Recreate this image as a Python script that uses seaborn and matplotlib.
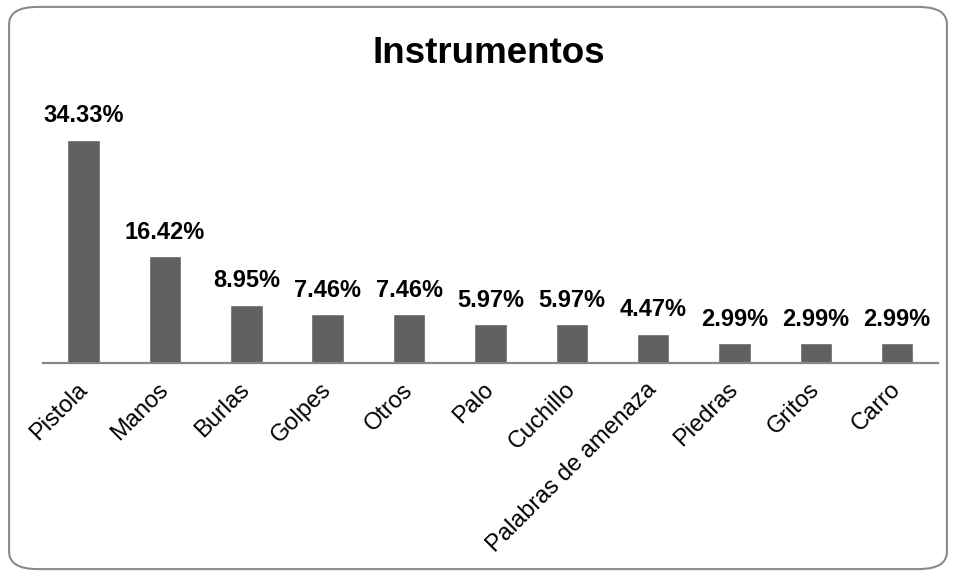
import matplotlib
matplotlib.use("Agg")
import matplotlib.pyplot as plt
from matplotlib.patches import FancyBboxPatch
import seaborn as sns
import pandas as pd

# data
categorias = ["Pistola", "Manos", "Burlas", "Golpes", "Otros", "Palo", "Cuchillo",
              "Palabras de amenaza", "Piedras", "Gritos", "Carro"]
porcentajes = [34.33, 16.42, 8.95, 7.46, 7.46, 5.97, 5.97, 4.47, 2.99, 2.99, 2.99]

df = pd.DataFrame({"Instrumento": categorias, "Porcentaje": porcentajes})

sns.set_theme(style="white")
plt.rcParams["font.family"] = ["Liberation Sans", "DejaVu Sans"]

fig = plt.figure(figsize=(9.56, 5.76), dpi=100)
ax = fig.add_axes([0.045, 0.370, 0.936, 0.451])

sns.barplot(data=df, x="Instrumento", y="Porcentaje", color="#606060",
            saturation=1, width=0.4, ax=ax)

ax.set_ylim(0, 40)
ax.set_xlim(-0.5, len(categorias) - 0.5)
ax.set_xlabel("")
ax.set_ylabel("")
ax.set_yticks([])
for s in ["top", "right", "left"]:
    ax.spines[s].set_visible(False)
ax.spines["bottom"].set_color("#868686")
ax.spines["bottom"].set_linewidth(1.6)

ax.tick_params(axis="x", length=0, pad=17)
plt.setp(ax.get_xticklabels(), rotation=45, ha="right", va="center",
         rotation_mode="anchor", fontsize=17, color="black")

ax.bar_label(ax.containers[0], labels=[f"{v:.2f}%" for v in porcentajes],
             padding=9, fontsize=17, fontweight="bold", color="black")

fig.text(0.511, 0.907, "Instrumentos", ha="center", va="center",
         fontsize=26.5, fontweight="bold", color="black")

# rounded frame around the whole chart
frame = FancyBboxPatch((0.0095, 0.012), 0.981, 0.976,
                       boxstyle="round,pad=0,rounding_size=0.03",
                       transform=fig.transFigure, fill=False,
                       edgecolor="#8a8a8a", linewidth=1.5)
fig.patches.append(frame)

fig.savefig("out.png", dpi=100)
